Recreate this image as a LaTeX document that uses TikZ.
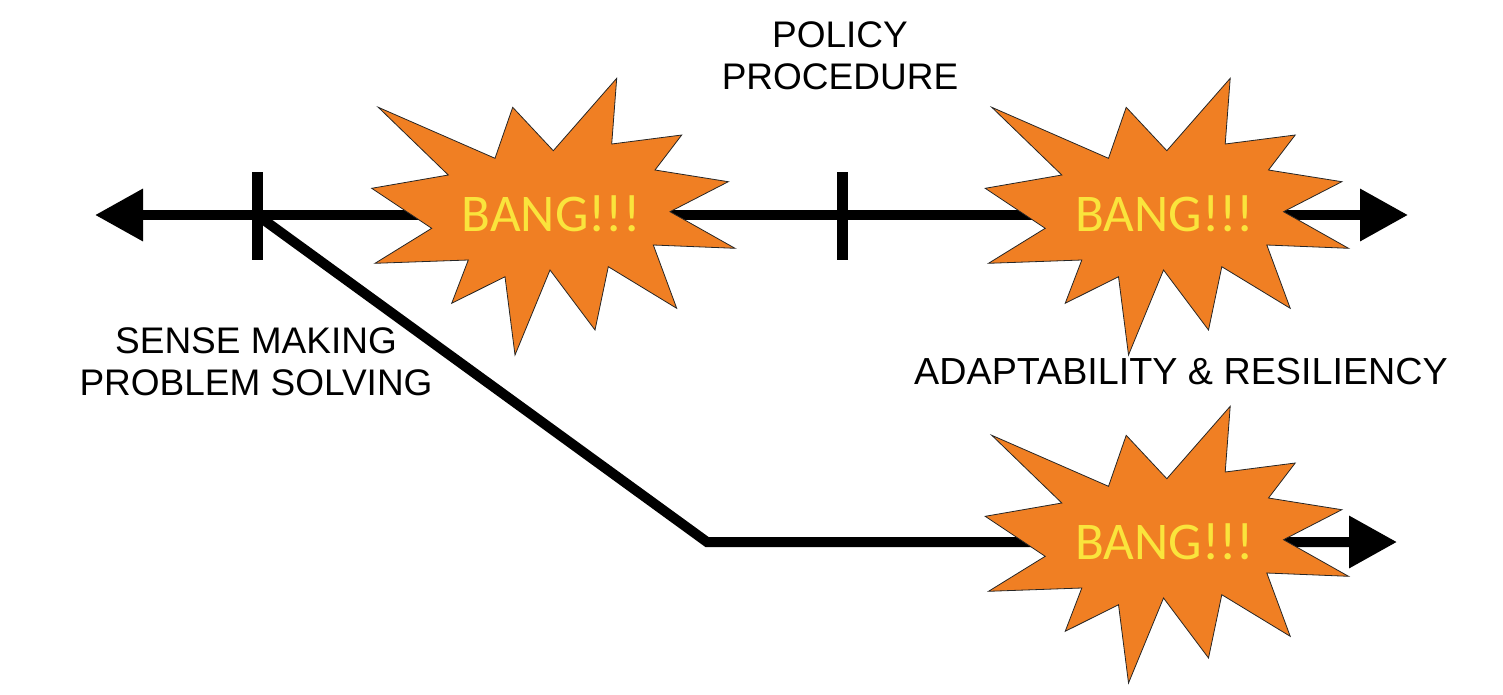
\documentclass[tikz,border=0pt]{standalone}
\usepackage{fontspec}
\setmainfont{Liberation Sans}
\newfontfamily\bangfont{Carlito}
\usepackage{tikz}
\usetikzlibrary{arrows.meta}
\usetikzlibrary{positioning}
\definecolor{bangorange}{RGB}{240,127,35}
\definecolor{bangyellow}{RGB}{250,228,60}
\tikzstyle{timeline} = [draw, line width=10pt, -{Triangle[length=48pt,width=50pt]}]
% one explosion shape, drawn round its centre #2, with its text node #1
\newcommand{\bangburst}[2]{
	\draw[burst, shift={#2}] (-174.7,-107.7) -- (-58,-56.7) -- (-40.3,-107.7) -- (0.3,-64.3)
		-- (63.7,-136.7) -- (58.7,-71) -- (128.7,-80) -- (102,-45) -- (175.3,-33.3)
		-- (117,-3.3) -- (182,33.3) -- (100.3,30) -- (123.7,93.3) -- (55.3,51.7)
		-- (42,115) -- (-3,55) -- (-38,140) -- (-48,61.7) -- (-101.3,88.3)
		-- (-84.7,45) -- (-178,48.3) -- (-121.3,13.3) -- (-181.3,-26.7) -- (-104.7,-40) -- cycle;
	\node[bangtext] (#1) at #2 {BANG!!!};
}

\begin{document}
\begin{tikzpicture}[x=1pt, y=-1pt,
				burst/.style={fill=bangorange, draw=black!85, line width=0.8pt},
				bangtext/.style={text=bangyellow, xshift=-2pt, yshift=1pt, font=\bangfont\fontsize{53}{60}\selectfont},
				caption/.style={align=center, font=\fontsize{37}{42}\selectfont},
				tickmark/.style={draw, line width=11pt}]
				\useasboundingbox (0,0) rectangle (1503,694);
				
				\coordinate (lefttip) at (95,215);
				\coordinate (righttip) at (1408,215);
				\coordinate (tick1) at (257,215);
				\coordinate (tick2) at (842,215);
				\coordinate (bend) at (707,542);
				\coordinate (lowtip) at (1397,542);
				
				\draw[timeline] (tick1) -- (lefttip);
				\draw[timeline] (tick1) -- (righttip);
				\draw[tickmark] (tick1) ++(0,-43) -- ++(0,88);
				\draw[tickmark] (tick2) ++(0,-43) -- ++(0,88);
				\draw[timeline, line join=miter] (tick1) -- (bend) -- (lowtip);
				
				\bangburst{bang1}{(553,215)}
				\bangburst{bang2}{(1166.5,215)}
				\bangburst{bang3}{(1166.5,543)}
				
				\node[caption](policy) at (840,56) {POLICY\\PROCEDURE};
				\node[caption](sense) at (256,362) {SENSE MAKING\\PROBLEM SOLVING};
				\node[caption, font=\fontsize{37.7}{42}\selectfont](adapt) at (1181,372) {ADAPTABILITY \& RESILIENCY};
			\end{tikzpicture}
\end{document}
